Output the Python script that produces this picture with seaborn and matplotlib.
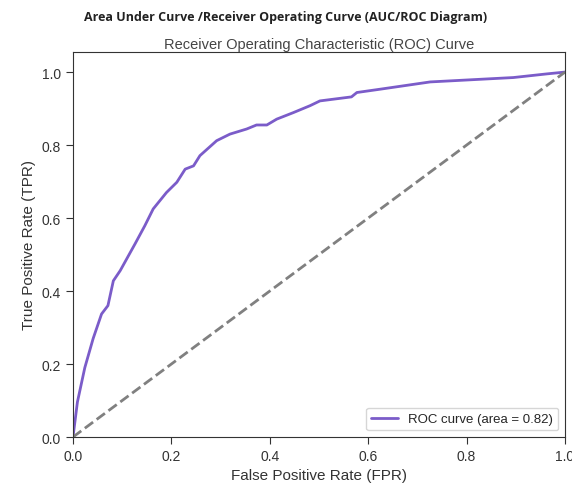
import numpy as np
import pandas as pd
import seaborn as sns
import matplotlib.pyplot as plt

# ROC points
fpr = [0.0, 0.009, 0.024, 0.041, 0.058, 0.071, 0.082, 0.096, 0.112, 0.126, 0.146,
       0.163, 0.190, 0.211, 0.228, 0.245, 0.258, 0.292, 0.319, 0.353, 0.373, 0.394,
       0.414, 0.448, 0.482, 0.502, 0.566, 0.577, 0.624, 0.726, 0.895, 0.963, 1.0]
tpr = [0.0, 0.096, 0.190, 0.270, 0.337, 0.360, 0.428, 0.456, 0.495, 0.529, 0.579,
       0.625, 0.670, 0.698, 0.734, 0.743, 0.771, 0.812, 0.830, 0.844, 0.855, 0.855,
       0.871, 0.889, 0.908, 0.921, 0.932, 0.944, 0.953, 0.973, 0.985, 0.995, 1.0]
roc_auc = 0.82

sns.set_style("ticks")
plt.rcParams['font.family'] = ['Liberation Sans', 'DejaVu Sans']

df = pd.DataFrame({"FPR": fpr, "TPR": tpr})

fig = plt.figure(figsize=(5.72, 4.89), dpi=100)
# axes box: left 73, right 565, top 53, bottom 438 (pixels)
ax = fig.add_axes([73 / 572, 1 - 438 / 489, 492 / 572, 385 / 489])

sns.lineplot(ax=ax, data=df, x="FPR", y="TPR", color="#7b5cc9", lw=2.0,
             label="ROC curve (area = %0.2f)" % roc_auc, estimator=None, sort=False)
ax.plot([0, 1], [0, 1], color="gray", lw=2, linestyle="--")

ax.set_xlim(0.0, 1.0)
ax.set_ylim(0.0, 1.055)
ax.set_xlabel("False Positive Rate (FPR)", fontsize=11, color="#333333")
ax.set_ylabel("True Positive Rate (TPR)", fontsize=11, color="#333333")
ax.set_title("Receiver Operating Characteristic (ROC) Curve", fontsize=10.5,
             color="#444444", pad=3)
ax.tick_params(labelsize=10, colors="#333333", length=5)
for s in ax.spines.values():
    s.set_color("#333333")
ax.legend(loc="lower right", fontsize=9.5)

fig.text(0.5, 1 - 18 / 489, "Area Under Curve /Receiver Operating Curve (AUC/ROC Diagram)",
         ha="center", va="center", fontsize=9, fontweight="bold",
         family=["Open Sans", "DejaVu Sans"], color="#222222")

fig.savefig("out.png", dpi=100)
